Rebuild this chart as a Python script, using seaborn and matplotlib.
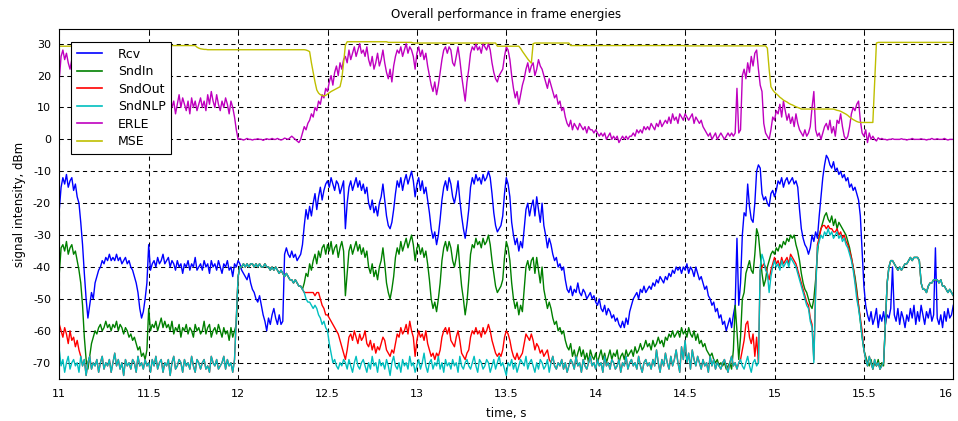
import numpy as np
import pandas as pd
import matplotlib
matplotlib.use("Agg")
import matplotlib.pyplot as plt
import seaborn as sns

# Frame energies sampled every 10 ms from 11.00 s to 16.00 s
time_s = np.round(np.arange(501) * 0.01 + 11.0, 2)

signal_names = ["Rcv", "SndIn", "SndOut", "SndNLP", "ERLE", "MSE"]
signal_colors = ["#0000ff", "#008000", "#ff0000", "#00bfbf", "#bf00bf", "#bfbf00"]

rcv = [
    -22, -15, -12, -14, -11, -15, -13, -12, -16, -14,
    -18, -20, -26, -33, -42, -50, -56, -52, -48, -50,
    -45, -43, -41, -40, -38, -39, -37, -38, -36, -38,
    -37, -38, -36, -38, -37, -39, -38, -37, -39, -38,
    -40, -41, -43, -45, -48, -53, -56, -54, -50, -45,
    -33, -41, -39, -38, -40, -37, -39, -38, -36, -39,
    -38, -37, -40, -38, -39, -41, -38, -40, -39, -42,
    -39, -40, -38, -41, -39, -40, -37, -41, -40, -39,
    -41, -38, -40, -39, -42, -38, -40, -39, -41, -38,
    -40, -42, -39, -40, -38, -41, -40, -43, -39, -40,
    -38, -39, -41, -42, -43, -44, -42, -45, -47, -48,
    -50, -51, -49, -52, -55, -57, -60, -56, -58, -55,
    -53, -56, -58, -55, -58, -57, -36, -34, -36, -37,
    -35, -37, -36, -38, -37, -36, -33, -27, -22, -25,
    -21, -24, -20, -17, -22, -18, -15, -19, -16, -14,
    -13, -15, -12, -14, -16, -13, -14, -17, -15, -13,
    -28, -20, -15, -13, -16, -14, -12, -15, -13, -16,
    -14, -17, -15, -20, -22, -19, -23, -21, -24, -20,
    -18, -14, -19, -24, -27, -28, -26, -22, -17, -13,
    -15, -12, -16, -13, -11, -14, -12, -10, -13, -18,
    -14, -12, -16, -13, -17, -15, -19, -23, -28, -31,
    -29, -33, -30, -25, -19, -15, -13, -16, -12, -14,
    -18, -20, -17, -13, -19, -24, -28, -31, -27, -22,
    -15, -12, -14, -11, -13, -12, -14, -11, -13, -12,
    -10, -12, -17, -23, -27, -29, -28, -27, -24, -17,
    -12, -14, -18, -26, -30, -33, -31, -35, -32, -34,
    -28, -22, -20, -24, -21, -19, -24, -18, -22, -26,
    -20, -27, -30, -34, -31, -33, -36, -38, -37, -40,
    -39, -41, -40, -44, -47, -48, -46, -49, -47, -48,
    -45, -48, -49, -47, -48, -50, -49, -48, -50, -49,
    -51, -52, -50, -53, -54, -52, -55, -53, -54, -56,
    -55, -57, -56, -58, -59, -57, -59, -56, -58, -54,
    -52, -50, -49, -48, -50, -47, -48, -46, -48, -47,
    -46, -47, -45, -46, -44, -45, -43, -44, -45, -43,
    -44, -42, -43, -41, -42, -40, -41, -40, -42, -40,
    -41, -39, -42, -40, -41, -43, -40, -42, -44, -43,
    -45, -47, -46, -49, -50, -52, -51, -54, -53, -56,
    -55, -58, -57, -60, -58, -56, -59, -55, -52, -31,
    -52, -45, -30, -23, -24, -14, -21, -25, -26, -20,
    -10, -8, -9, -17, -19, -18, -20, -21, -17, -16,
    -18, -16, -13, -14, -12, -15, -13, -12, -14, -13,
    -12, -14, -13, -15, -22, -28, -31, -33, -34, -36,
    -34, -30, -32, -29, -31, -24, -18, -12, -8, -5,
    -6, -8, -9, -7, -10, -9, -11, -10, -12, -11,
    -13, -12, -15, -14, -16, -15, -17, -19, -24, -35,
    -46, -52, -55, -57, -54, -58, -56, -53, -59, -55,
    -57, -54, -58, -55, -56, -53, -40, -55, -57, -53,
    -58, -54, -56, -59, -55, -57, -53, -56, -52, -58,
    -54, -57, -52, -55, -58, -54, -56, -53, -57, -55,
    -34, -56, -58, -55, -59, -54, -57, -53, -56, -55,
    -52,
]

snd_in = [
    -42, -34, -33, -35, -32, -36, -34, -33, -36, -35,
    -38, -41, -45, -52, -62, -69, -72, -68, -64, -62,
    -60, -61, -59, -58, -60, -59, -57, -59, -58, -60,
    -58, -59, -57, -60, -58, -59, -61, -59, -60, -62,
    -61, -63, -62, -64, -66, -65, -68, -67, -69, -66,
    -53, -60, -58, -59, -57, -60, -58, -56, -59, -57,
    -59, -58, -60, -57, -61, -59, -60, -58, -62, -59,
    -60, -58, -61, -59, -60, -62, -58, -60, -59, -61,
    -60, -57, -61, -59, -58, -62, -60, -59, -61, -58,
    -60, -62, -59, -61, -60, -63, -59, -62, -60, -58,
    -43, -40, -40, -39, -40, -39, -40, -39, -39, -40,
    -39, -40, -39, -40, -40, -39, -40, -40, -41, -40,
    -41, -40, -41, -42, -41, -42, -43, -42, -43, -44,
    -44, -45, -44, -45, -46, -46, -47, -45, -42, -43,
    -39, -41, -38, -36, -39, -35, -37, -34, -33, -36,
    -33, -35, -32, -36, -34, -33, -37, -34, -32, -35,
    -49, -42, -35, -33, -36, -34, -32, -35, -33, -36,
    -34, -37, -35, -40, -42, -39, -43, -41, -44, -40,
    -38, -34, -39, -45, -48, -50, -47, -43, -37, -34,
    -36, -32, -35, -33, -31, -34, -32, -30, -33, -38,
    -34, -33, -36, -34, -37, -35, -39, -44, -50, -53,
    -51, -54, -50, -45, -38, -34, -32, -35, -32, -34,
    -38, -40, -37, -33, -40, -46, -50, -55, -51, -44,
    -36, -33, -34, -31, -33, -32, -34, -31, -33, -32,
    -30, -33, -38, -42, -46, -48, -47, -46, -44, -37,
    -32, -34, -38, -45, -50, -53, -51, -55, -52, -54,
    -47, -40, -38, -41, -38, -37, -42, -37, -41, -45,
    -40, -47, -50, -53, -51, -53, -56, -58, -57, -60,
    -59, -61, -60, -63, -65, -66, -64, -68, -66, -69,
    -67, -65, -68, -66, -69, -67, -70, -66, -68, -69,
    -67, -70, -68, -66, -69, -67, -70, -68, -66, -69,
    -67, -68, -66, -70, -68, -67, -69, -66, -68, -67,
    -66, -68, -65, -67, -66, -64, -66, -65, -63, -65,
    -64, -66, -63, -65, -64, -62, -64, -63, -65, -62,
    -63, -61, -62, -60, -62, -61, -60, -62, -59, -61,
    -60, -62, -59, -61, -62, -60, -63, -61, -64, -63,
    -65, -64, -66, -67, -68, -67, -69, -70, -69, -71,
    -70, -71, -70, -72, -71, -70, -72, -66, -52, -60,
    -69, -62, -50, -48, -42, -40, -38, -41, -42, -36,
    -28, -30, -36, -42, -46, -44, -40, -38, -36, -35,
    -36, -34, -35, -33, -34, -32, -33, -31, -32, -30,
    -31, -30, -33, -35, -38, -42, -45, -47, -48, -50,
    -52, -53, -50, -44, -36, -30, -28, -26, -24, -23,
    -25, -26, -24, -27, -25, -28, -26, -27, -28, -29,
    -30, -32, -34, -37, -40, -43, -47, -52, -57, -62,
    -66, -68, -70, -71, -69, -72, -70, -71, -69, -72,
    -70, -71, -58, -45, -40, -38, -38, -39, -40, -41,
    -40, -41, -40, -39, -39, -38, -37, -38, -37, -37,
    -37, -38, -45, -47, -47, -48, -46, -45, -45, -44,
    -44, -44, -45, -44, -46, -46, -47, -48, -47, -48,
    -49,
]

snd_out = [
    -58, -60, -62, -59, -61, -64, -60, -63, -62, -65,
    -63, -66, -68, -71, -69, -74, -70, -68, -72, -70,
    -71, -69, -73, -70, -68, -72, -70, -71, -69, -73,
    -70, -67, -71, -69, -72, -70, -74, -69, -71, -70,
    -72, -69, -70, -73, -68, -71, -70, -72, -69, -71,
    -70, -73, -69, -71, -68, -72, -70, -69, -73, -70,
    -71, -69, -74, -70, -68, -72, -71, -69, -70, -73,
    -69, -71, -70, -72, -68, -71, -73, -69, -70, -72,
    -70, -69, -72, -71, -73, -68, -70, -71, -69, -72,
    -71, -70, -68, -72, -69, -71, -70, -73, -69, -56,
    -43, -40, -40, -39, -40, -39, -40, -39, -39, -40,
    -39, -40, -39, -40, -40, -39, -40, -40, -41, -40,
    -41, -40, -41, -42, -41, -42, -43, -42, -43, -44,
    -44, -45, -44, -45, -46, -46, -47, -48, -48, -48,
    -48, -48, -48, -49, -48, -48, -50, -52, -53, -55,
    -55, -56, -57, -58, -59, -60, -61, -63, -65, -67,
    -69, -66, -62, -61, -63, -60, -62, -64, -61, -63,
    -62, -60, -64, -65, -63, -66, -64, -67, -65, -66,
    -64, -62, -63, -66, -67, -68, -66, -67, -64, -61,
    -62, -59, -61, -60, -58, -61, -57, -60, -62, -68,
    -63, -60, -62, -61, -63, -60, -64, -66, -68, -67,
    -69, -67, -68, -66, -62, -60, -59, -61, -59, -63,
    -64, -65, -62, -60, -63, -67, -68, -69, -67, -66,
    -62, -60, -61, -59, -61, -60, -62, -59, -61, -60,
    -58, -60, -63, -65, -67, -68, -67, -68, -66, -62,
    -60, -61, -63, -66, -68, -69, -67, -69, -68, -67,
    -64, -61, -62, -63, -61, -63, -66, -64, -65, -67,
    -66, -68, -67, -66, -69, -70, -68, -71, -72, -70,
    -71, -69, -72, -70, -73, -71, -69, -70, -72, -68,
    -71, -70, -73, -69, -71, -72, -70, -68, -71, -70,
    -72, -69, -71, -70, -73, -68, -71, -70, -72, -69,
    -70, -72, -71, -69, -73, -70, -71, -68, -72, -70,
    -69, -71, -70, -72, -68, -71, -73, -70, -69, -71,
    -70, -72, -69, -71, -66, -70, -73, -69, -71, -67,
    -70, -72, -68, -71, -69, -66, -70, -73, -65, -69,
    -63, -70, -67, -72, -66, -69, -71, -68, -70, -72,
    -69, -71, -70, -73, -68, -71, -69, -72, -70, -71,
    -72, -70, -69, -71, -73, -70, -68, -71, -70, -72,
    -70, -69, -66, -63, -58, -57, -62, -64, -61, -68,
    -62, -70, -41, -40, -39, -40, -42, -44, -41, -39,
    -37, -39, -38, -40, -37, -39, -38, -37, -39, -36,
    -37, -38, -39, -41, -43, -45, -47, -49, -51, -52,
    -56, -58, -69, -47, -33, -31, -28, -27, -27, -28,
    -27, -28, -28, -29, -29, -28, -30, -29, -31, -30,
    -32, -33, -35, -37, -40, -44, -48, -52, -56, -60,
    -66, -69, -71, -68, -70, -72, -69, -71, -70, -72,
    -71, -70, -58, -45, -40, -38, -38, -39, -40, -41,
    -40, -41, -40, -39, -39, -38, -37, -38, -37, -37,
    -37, -38, -45, -47, -47, -48, -46, -45, -45, -44,
    -44, -44, -45, -44, -46, -46, -47, -48, -47, -48,
    -49,
]

snd_nlp = [
    -66, -71, -69, -73, -70, -68, -72, -70, -69, -71,
    -70, -73, -68, -71, -69, -74, -70, -68, -72, -70,
    -71, -69, -73, -70, -68, -72, -70, -71, -69, -73,
    -70, -67, -71, -69, -72, -70, -74, -69, -71, -70,
    -72, -69, -70, -73, -68, -71, -70, -72, -69, -71,
    -70, -73, -69, -71, -68, -72, -70, -69, -73, -70,
    -71, -69, -74, -70, -68, -72, -71, -69, -70, -73,
    -69, -71, -70, -72, -68, -71, -73, -69, -70, -72,
    -70, -69, -72, -71, -73, -68, -70, -71, -69, -72,
    -71, -70, -68, -72, -69, -71, -70, -73, -69, -56,
    -43, -40, -40, -39, -40, -39, -40, -39, -39, -40,
    -39, -40, -39, -40, -40, -39, -40, -40, -41, -40,
    -41, -40, -41, -42, -41, -42, -43, -42, -43, -44,
    -44, -45, -44, -45, -46, -46, -47, -48, -50, -51,
    -51, -52, -53, -52, -53, -55, -56, -58, -57, -59,
    -60, -64, -67, -70, -69, -71, -72, -70, -71, -69,
    -70, -72, -69, -71, -73, -70, -68, -71, -72, -70,
    -69, -71, -73, -70, -72, -68, -71, -70, -73, -69,
    -71, -70, -72, -69, -71, -74, -70, -68, -71, -72,
    -70, -73, -69, -71, -70, -72, -68, -71, -70, -73,
    -71, -69, -72, -70, -67, -71, -73, -70, -69, -72,
    -70, -71, -68, -72, -70, -73, -69, -71, -70, -72,
    -69, -71, -70, -73, -68, -71, -72, -70, -69, -71,
    -72, -70, -68, -71, -73, -69, -70, -72, -71, -69,
    -70, -73, -71, -69, -72, -70, -68, -71, -70, -72,
    -74, -70, -71, -69, -72, -70, -73, -71, -69, -70,
    -71, -68, -72, -70, -69, -71, -73, -70, -72, -69,
    -70, -72, -71, -69, -73, -70, -68, -71, -72, -70,
    -71, -69, -72, -70, -73, -71, -69, -70, -72, -68,
    -71, -70, -73, -69, -71, -72, -70, -68, -71, -70,
    -72, -69, -71, -70, -73, -68, -71, -70, -72, -69,
    -70, -72, -71, -69, -73, -70, -71, -68, -72, -70,
    -69, -71, -70, -72, -68, -71, -73, -70, -69, -71,
    -70, -72, -69, -71, -66, -70, -73, -69, -71, -67,
    -70, -72, -68, -71, -69, -66, -70, -73, -65, -69,
    -63, -70, -67, -72, -66, -69, -71, -68, -70, -72,
    -69, -71, -70, -73, -68, -71, -69, -72, -70, -71,
    -72, -70, -69, -71, -73, -70, -68, -71, -70, -72,
    -70, -69, -71, -72, -70, -68, -71, -73, -70, -69,
    -71, -70, -40, -36, -38, -41, -42, -48, -43, -40,
    -38, -40, -39, -41, -38, -40, -39, -38, -40, -37,
    -38, -39, -40, -42, -44, -46, -48, -50, -52, -53,
    -57, -59, -70, -48, -34, -32, -30, -31, -29, -30,
    -28, -30, -29, -31, -30, -29, -31, -30, -32, -31,
    -33, -34, -36, -38, -41, -45, -50, -53, -57, -62,
    -66, -69, -71, -68, -70, -72, -69, -71, -70, -72,
    -71, -70, -58, -45, -40, -38, -38, -39, -40, -41,
    -40, -41, -40, -39, -39, -38, -37, -38, -37, -37,
    -37, -38, -45, -47, -47, -48, -46, -45, -45, -44,
    -44, -44, -45, -44, -46, -46, -47, -48, -47, -48,
    -49,
]

erle = [
    19, 26, 28, 25, 27, 24, 22, 25, 20, 23,
    21, 18, 20, 16, 19, 15, 17, 14, 16, 13,
    14, 12, 15, 11, 13, 10, 12, 14, 11, 13,
    10, 12, 9, 13, 11, 8, 12, 10, 14, 11,
    9, 12, 10, 13, 8, 11, 9, 12, 10, 7,
    11, 9, 13, 10, 12, 8, 11, 14, 10, 12,
    9, 13, 11, 10, 12, 8, 11, 14, 10, 13,
    11, 9, 12, 8, 13, 10, 12, 9, 11, 13,
    10, 12, 9, 14, 11, 15, 12, 10, 14, 11,
    9, 12, 10, 13, 11, 8, 12, 10, 7, 3,
    0, 0.2, 0, -0.2, 0, 0.3, 0, 0, -0.2, 0,
    0, 0.2, 0, 0, -0.3, 0, 0.2, 0, 0, 0.3,
    0, 0, 0.3, 0, -0.2, 0, 0.4, 0.2, 0, 0.5,
    1, 0.5, 0, -0.5, -1, 0, 2, 4, 3, 5,
    6, 8, 7, 10, 9, 12, 11, 14, 13, 16,
    15, 18, 20, 17, 21, 23, 20, 24, 22, 25,
    26, 24, 28, 25, 27, 29, 26, 28, 30, 27,
    28, 26, 29, 25, 23, 26, 22, 24, 27, 23,
    25, 28, 24, 21, 19, 22, 18, 23, 26, 28,
    27, 29, 26, 28, 30, 27, 29, 28, 26, 22,
    27, 29, 26, 28, 25, 27, 23, 20, 17, 15,
    18, 14, 17, 21, 25, 28, 29, 27, 29, 28,
    24, 23, 26, 29, 25, 20, 16, 12, 18, 22,
    27, 29, 28, 30, 28, 29, 27, 30, 29, 28,
    30, 28, 24, 21, 19, 18, 20, 21, 22, 26,
    29, 28, 25, 20, 16, 13, 15, 11, 14, 17,
    19, 22, 24, 21, 23, 24, 20, 22, 25, 23,
    22, 20, 18, 16, 19, 17, 15, 13, 14, 11,
    12, 9, 10, 7, 5, 4, 6, 3, 5, 4,
    3, 5, 4, 3, 4, 2, 4, 3, 3, 2,
    3, 2, 1, 2, 1, 2, 0, 1, 2, 0,
    1, 0, 1, -1, 0, 1, 0, 1, 0, 1,
    1, 2, 1, 3, 2, 3, 2, 4, 3, 4,
    3, 5, 4, 3, 5, 4, 6, 4, 5, 6,
    5, 7, 5, 8, 6, 7, 5, 8, 7, 6,
    8, 7, 6, 7, 8, 5, 7, 6, 5, 6,
    4, 3, 2, 1, 2, 0, 1, 2, 0, 1,
    2, 1, 0, 1, 2, 1, 2, 1, 2, 16,
    2, 3, 20, 22, 19, 24, 21, 26, 23, 27,
    28, 22, 17, 15, 5, 2, 1, 0, 3, 7,
    6, 9, 8, 11, 7, 12, 9, 6, 8, 5,
    7, 4, 8, 5, 3, 2, 1, 3, 1, 2,
    4, 10, 15, 3, 1, 2, 0, 2, 4, 5,
    3, 6, 2, 4, 1, 6, 5, 8, 4, 1,
    0, 1, 4, 8, 10, 9, 11, 12, 6, 2,
    1, 3, -1, 2, 0, 1, 0, -0.5, 0.5, 0,
    0.3, 0, 0, -0.2, 0, 0, 0.2, 0, 0, 0,
    0, 0.2, 0, 0, -0.2, 0, 0, 0.3, 0, 0,
    0, 0, 0.2, 0, 0, -0.2, 0, 0, 0.3, 0,
    0, 0.2, 0, 0, 0, 0.3, 0, -0.2, 0, 0,
    0,
]

mse = [
    29.2, 29.2, 29.2, 29.2, 29.2, 29.2, 29.2, 29.3, 29.3, 29.3,
    29.3, 29.3, 29.3, 29.3, 29.3, 29.3, 29.3, 29.3, 29.3, 29.3,
    29.3, 29.3, 29.3, 29.3, 29.3, 29.3, 29.3, 29.3, 29.3, 29.3,
    29.4, 29.4, 29.4, 29.4, 29.4, 29.4, 29.4, 29.4, 29.4, 29.4,
    29.4, 29.4, 29.4, 29.4, 29.4, 29.4, 29.4, 29.4, 29.4, 29.4,
    29.4, 29.4, 29.4, 29.4, 29.4, 29.4, 29.4, 29.4, 29.4, 29.4,
    29.4, 29.4, 29.4, 29.4, 29.4, 29.4, 29.4, 29.4, 29.4, 29.4,
    29.4, 29.4, 29.4, 29.4, 29.4, 29.4, 29.4, 28.9, 28.6, 28.4,
    28.3, 28.2, 28.2, 28.1, 28.1, 28.1, 28.1, 28.1, 28.1, 28.1,
    28.1, 28.1, 28.1, 28.1, 28.1, 28.1, 28.1, 28.1, 28.1, 28.1,
    28.1, 28.1, 28.1, 28.1, 28.1, 28.1, 28.1, 28.1, 28.1, 28.1,
    28.1, 28.1, 28.1, 28.1, 28.1, 28.1, 28.1, 28.1, 28.1, 28.1,
    28.1, 28.1, 28.1, 28.1, 28.1, 28.1, 28.1, 28.1, 28.1, 28.1,
    28.1, 28.1, 28.1, 28.1, 28.1, 28.1, 28.1, 28.1, 28.0, 27.8,
    27.5, 24.0, 21.0, 18.0, 15.5, 14.5, 14.0, 13.8, 13.6, 13.8,
    14.2, 14.6, 15.0, 15.3, 15.6, 15.9, 16.2, 16.5, 19.0, 24.0,
    29.5, 30.6, 30.6, 30.6, 30.6, 30.6, 30.6, 30.6, 30.6, 30.6,
    30.6, 30.6, 30.6, 30.6, 30.6, 30.6, 30.6, 30.6, 30.6, 30.6,
    30.6, 30.6, 30.6, 30.6, 30.4, 30.4, 30.4, 30.4, 30.4, 30.4,
    30.4, 30.4, 30.4, 30.4, 30.4, 30.4, 30.4, 30.4, 30.2, 30.2,
    30.2, 30.2, 30.2, 30.2, 30.2, 30.2, 30.2, 30.2, 30.2, 30.2,
    30.2, 30.2, 30.2, 30.2, 30.2, 30.2, 30.2, 30.2, 30.2, 30.2,
    30.2, 30.2, 30.2, 30.2, 30.2, 30.2, 30.2, 30.2, 30.2, 30.2,
    30.2, 30.2, 30.2, 30.2, 30.2, 30.2, 30.2, 30.2, 30.2, 30.2,
    30.2, 30.2, 30.2, 30.2, 30.2, 29.2, 29.2, 29.2, 29.2, 29.2,
    29.2, 29.2, 29.2, 29.2, 29.2, 29.2, 29.2, 29.2, 28.5, 27.6,
    26.8, 26.0, 25.2, 24.5, 23.9, 30.0, 30.2, 30.2, 30.2, 30.2,
    30.2, 30.2, 30.2, 30.2, 30.2, 30.2, 30.2, 30.2, 30.2, 30.2,
    30.2, 30.2, 30.2, 30.2, 30.2, 30.2, 29.4, 29.4, 29.4, 29.4,
    29.4, 29.4, 29.4, 29.4, 29.4, 29.4, 29.4, 29.4, 29.4, 29.4,
    29.4, 29.4, 29.4, 29.4, 29.4, 29.4, 29.4, 29.4, 29.4, 29.4,
    29.4, 29.4, 29.4, 29.4, 29.4, 29.4, 29.4, 29.4, 29.4, 29.4,
    29.4, 29.4, 29.4, 29.4, 29.4, 29.4, 29.4, 29.4, 29.4, 29.4,
    29.4, 29.4, 29.4, 29.4, 29.4, 29.4, 29.4, 29.4, 29.4, 29.4,
    29.4, 29.4, 29.4, 29.4, 29.4, 29.4, 29.4, 29.4, 29.4, 29.4,
    29.3, 29.3, 29.3, 29.3, 29.3, 29.3, 29.3, 29.3, 29.3, 29.3,
    29.3, 29.3, 29.3, 29.3, 29.3, 29.3, 29.3, 29.3, 29.3, 29.3,
    29.3, 29.3, 29.3, 29.3, 29.3, 29.3, 29.3, 29.3, 29.3, 29.3,
    29.3, 29.3, 29.3, 29.3, 29.3, 29.3, 29.3, 29.3, 29.3, 29.3,
    29.3, 29.3, 29.3, 29.3, 29.3, 29.3, 28.6, 22.0, 16.5, 15.5,
    14.8, 14.3, 13.8, 13.2, 12.8, 12.3, 12.0, 11.7, 11.3, 11.0,
    10.8, 10.5, 10.2, 10.0, 9.8, 9.5, 9.5, 9.5, 9.5, 9.5,
    9.5, 9.5, 9.5, 9.5, 9.5, 9.5, 9.5, 9.5, 9.5, 9.5,
    9.5, 9.5, 9.5, 9.5, 9.3, 9.1, 9.0, 8.8, 8.5, 8.2,
    7.9, 7.5, 7.0, 6.6, 6.2, 5.9, 5.6, 5.4, 5.3, 5.3,
    5.3, 5.3, 5.3, 5.3, 5.3, 5.3, 17.8, 30.2, 30.4, 30.4,
    30.4, 30.4, 30.4, 30.4, 30.4, 30.4, 30.4, 30.4, 30.4, 30.4,
    30.4, 30.4, 30.4, 30.4, 30.4, 30.4, 30.4, 30.4, 30.4, 30.4,
    30.4, 30.4, 30.4, 30.4, 30.4, 30.4, 30.4, 30.4, 30.4, 30.4,
    30.4, 30.4, 30.4, 30.4, 30.4, 30.4, 30.4, 30.4, 30.4, 30.4,
    30.4,
]

series = dict(zip(signal_names, [rcv, snd_in, snd_out, snd_nlp, erle, mse]))
for name, values in series.items():
    if len(values) != len(time_s):
        raise ValueError(f"{name}: {len(values)} samples, expected {len(time_s)}")

frame = pd.DataFrame({"time": time_s, **series})
long_frame = frame.melt(id_vars="time", var_name="signal", value_name="level")

plt.rcParams["axes.unicode_minus"] = False
plt.rcParams["font.family"] = ["DejaVu Sans"]

fig = plt.figure(figsize=(9.58, 4.21), dpi=100)
ax = fig.add_axes([0.0619, 0.0998, 0.9332, 0.8306])

sns.lineplot(
    data=long_frame, x="time", y="level", hue="signal",
    hue_order=signal_names, palette=signal_colors,
    estimator=None, linewidth=1.0, legend=False, ax=ax,
)

ax.set_xlim(11, 16)
ax.set_ylim(-75.1, 34.5)
x_ticks = np.arange(11, 16.01, 0.5)
ax.set_xticks(x_ticks)
ax.set_xticklabels([f"{v:g}" for v in x_ticks])
ax.set_yticks(np.arange(-70, 31, 10))
# keep the last time label inside the canvas
ax.get_xticklabels()[-1].set_horizontalalignment("right")

ax.grid(True, color="black", linestyle=(0, (4, 3.5)), linewidth=0.75)
ax.set_axisbelow(True)
for spine in ax.spines.values():
    spine.set_color("black")
    spine.set_linewidth(0.8)
ax.tick_params(direction="in", length=3, width=0.6, labelsize=8,
               top=True, right=True)
ax.tick_params(axis="x", pad=7)
ax.tick_params(axis="y", pad=6)

ax.set_title("Overall performance in frame energies", fontsize=8.5, pad=8)
ax.set_xlabel("time, s", fontsize=8.5, labelpad=6)
ax.set_ylabel("signal intensity, dBm", fontsize=8.5, labelpad=5)

legend = ax.legend(
    ax.get_lines()[:len(signal_names)], signal_names,
    loc="upper left", bbox_to_anchor=(0.0131, 0.9637), borderaxespad=0,
    fontsize=9, frameon=True, fancybox=False, framealpha=1,
    edgecolor="black", handlelength=2.0, handletextpad=1.3,
    labelspacing=0.36, borderpad=0.45,
)
legend.get_frame().set_linewidth(0.8)
for line in legend.get_lines():
    line.set_linewidth(1.2)

fig.savefig("out.png", dpi=100)
